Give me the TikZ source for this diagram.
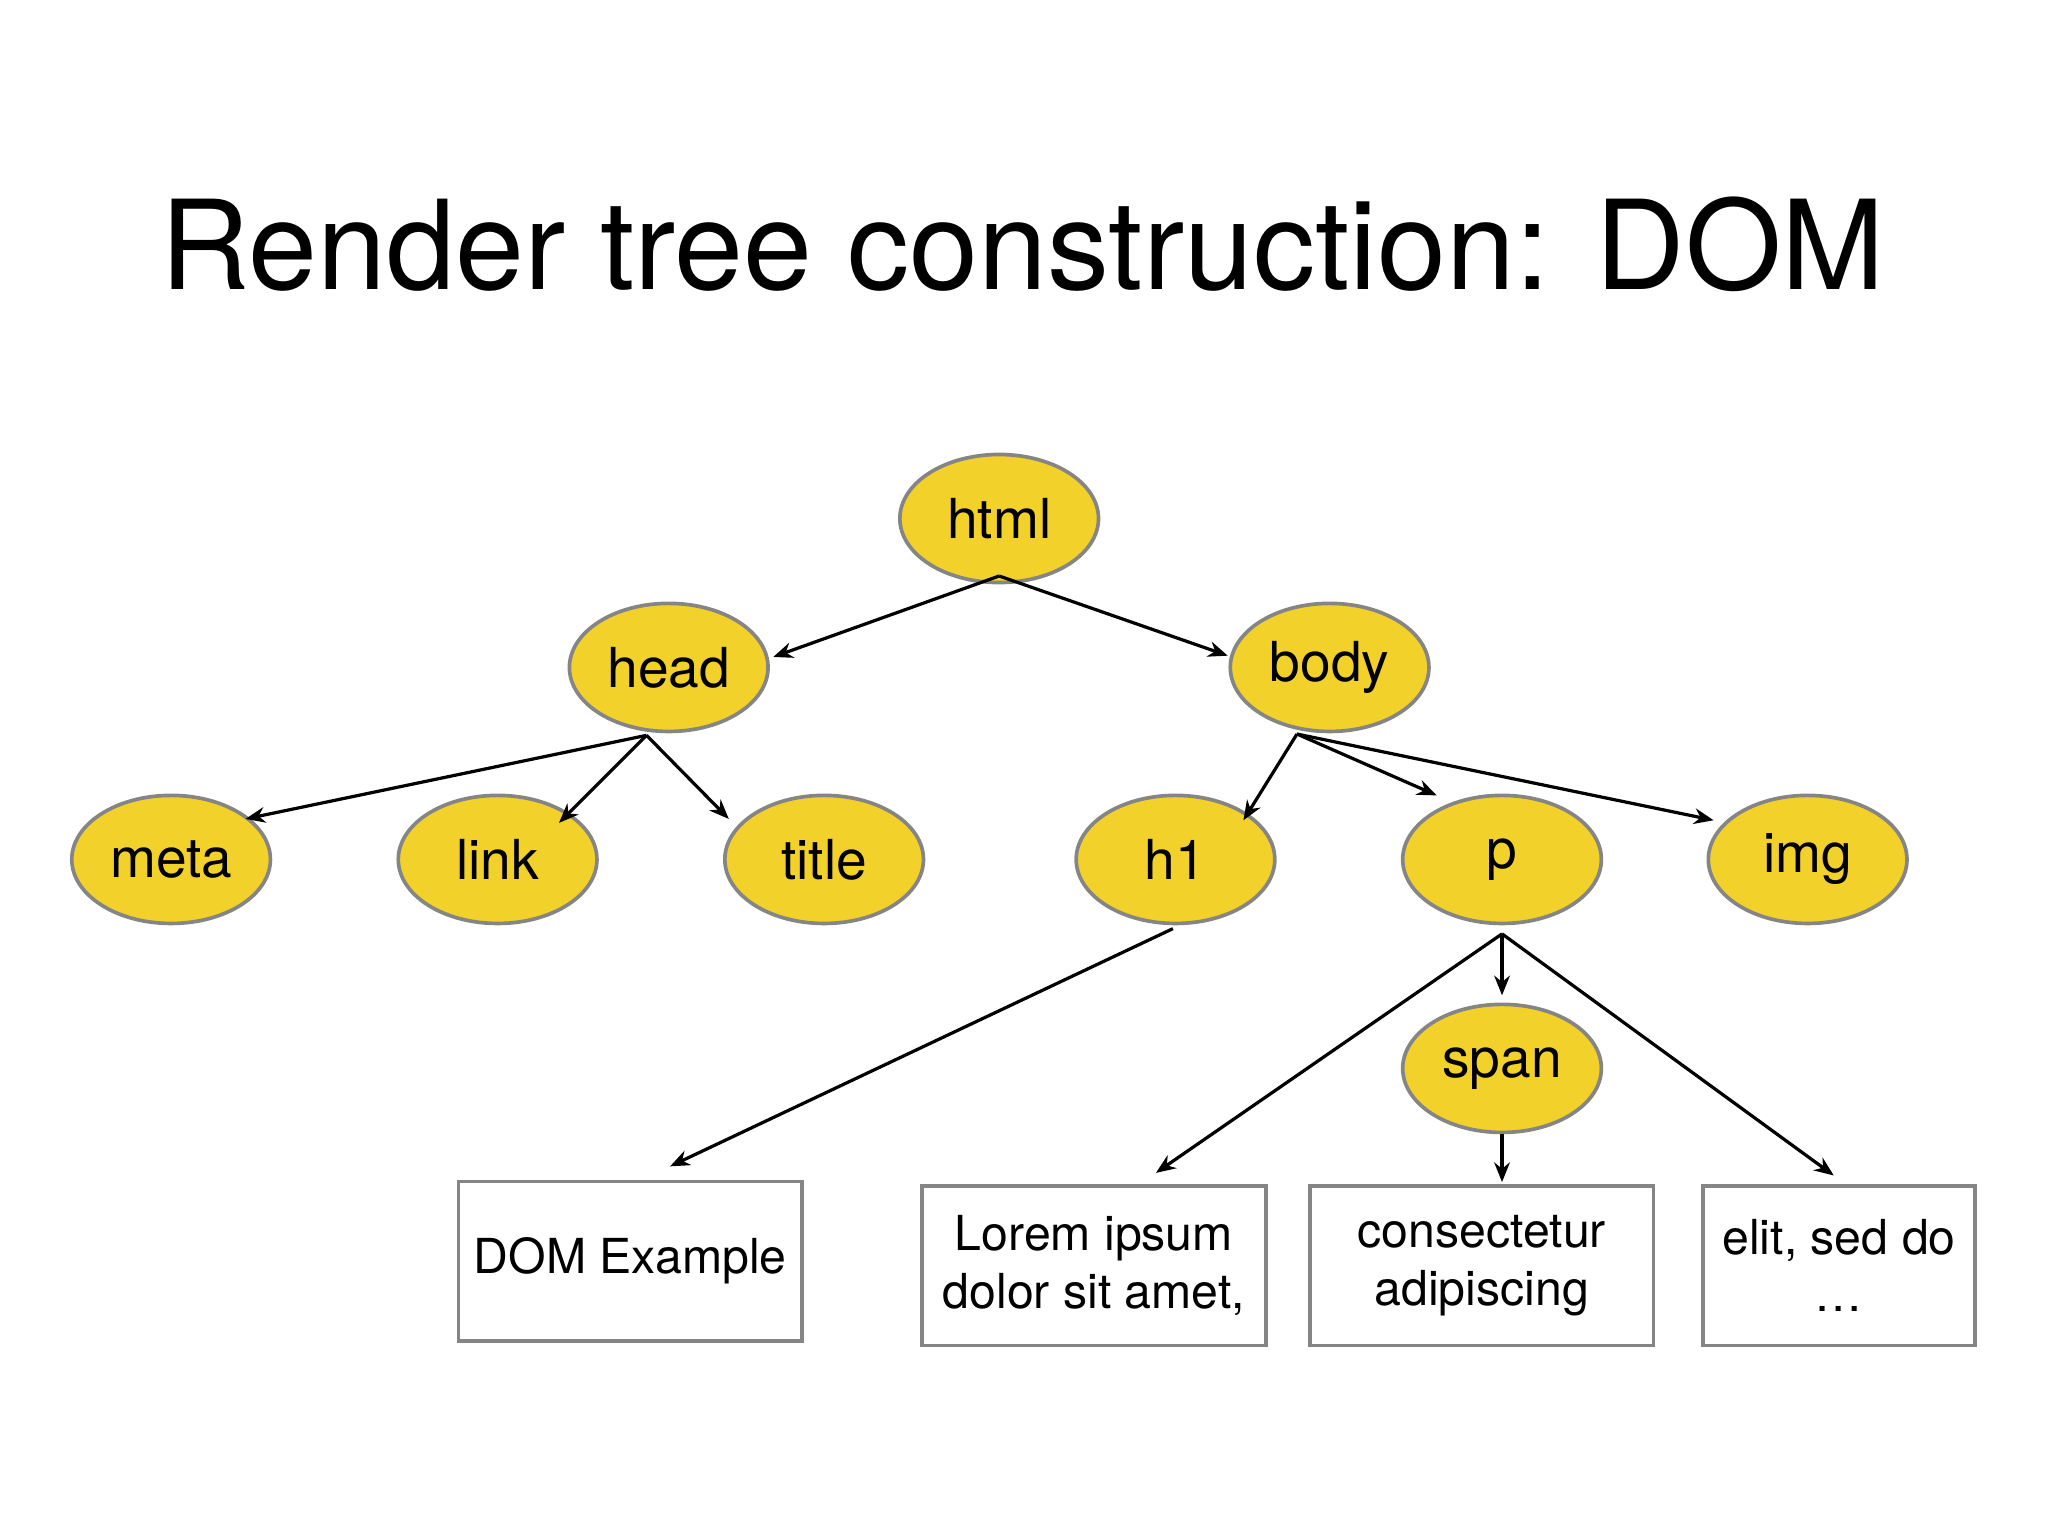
\documentclass[tikz,border=0pt]{standalone}
\usepackage{fontspec}
\setmainfont{TeX Gyre Heros}
\usetikzlibrary{shapes.geometric,arrows.meta}
\definecolor{yel}{HTML}{F3D12B}
\definecolor{bord}{HTML}{858585}
\begin{document}
\begin{tikzpicture}[x=0.01cm,y=-0.01cm,
  el/.style={ellipse,draw=bord,line width=0.8pt,fill=yel,minimum width=1.52cm,minimum height=0.98cm,inner sep=0pt,font=\fontsize{12}{14}\selectfont},
  bx/.style={rectangle,draw=bord,line width=0.8pt,minimum height=1.22cm,inner sep=0pt,align=center,font=\fontsize{10.5}{12.5}\selectfont},
  ar/.style={-{Stealth[length=0.15cm,width=0.12cm]},line width=0.7pt}]
\useasboundingbox (0,0) rectangle (1568,1176);
\node[font=\fontsize{27}{32}\selectfont] (ttl) at (783,187) {Render tree construction: DOM};
\node[el] (html) at (765,397) {html};
\node[el] (head) at (512,511) {head};
\node[el] (body) at (1018,511) {body};
\node[el] (meta) at (131,658) {meta};
\node[el] (link) at (381,658) {link};
\node[el] (title) at (631,658) {title};
\node[el] (h1) at (900,658) {h1};
\node[el] (p) at (1150,658) {p};
\node[el] (img) at (1384,658) {img};
\node[el] (span) at (1150,818) {span};
\node[bx,minimum width=2.63cm] (t1) at (482.5,965.5) {DOM Example};
\node[bx,minimum width=2.63cm] (t2) at (837.5,969) {Lorem ipsum\\dolor sit amet,};
\node[bx,minimum width=2.63cm] (t3) at (1134.5,969) {consectetur\\adipiscing};
\node[bx,minimum width=2.08cm] (t4) at (1408,969) {elit, sed do\\\dots};
\coordinate (a0) at (765,441);
\coordinate (a1) at (592,503);
\coordinate (a2) at (940,502);
\coordinate (b0) at (495,563);
\coordinate (b1) at (188,627);
\coordinate (b2) at (428,630);
\coordinate (b3) at (558,627);
\coordinate (c0) at (993,562);
\coordinate (c1) at (952,628);
\coordinate (c2) at (1100,609);
\coordinate (c3) at (1312,628);
\coordinate (d0) at (898,711);
\coordinate (d1) at (513,893);
\coordinate (e0) at (1150,715);
\coordinate (e1) at (1150,762);
\coordinate (e2) at (885,898);
\coordinate (e3) at (1404,900);
\coordinate (f0) at (1150,868);
\coordinate (f1) at (1150,905);
\draw[ar] (a0) -- (a1); \draw[ar] (a0) -- (a2);
\draw[ar] (b0) -- (b1); \draw[ar] (b0) -- (b2); \draw[ar] (b0) -- (b3);
\draw[ar] (c0) -- (c1); \draw[ar] (c0) -- (c2); \draw[ar] (c0) -- (c3);
\draw[ar] (d0) -- (d1);
\draw[ar] (e0) -- (e1); \draw[ar] (e0) -- (e2); \draw[ar] (e0) -- (e3);
\draw[ar] (f0) -- (f1);
\end{tikzpicture}
\end{document}
